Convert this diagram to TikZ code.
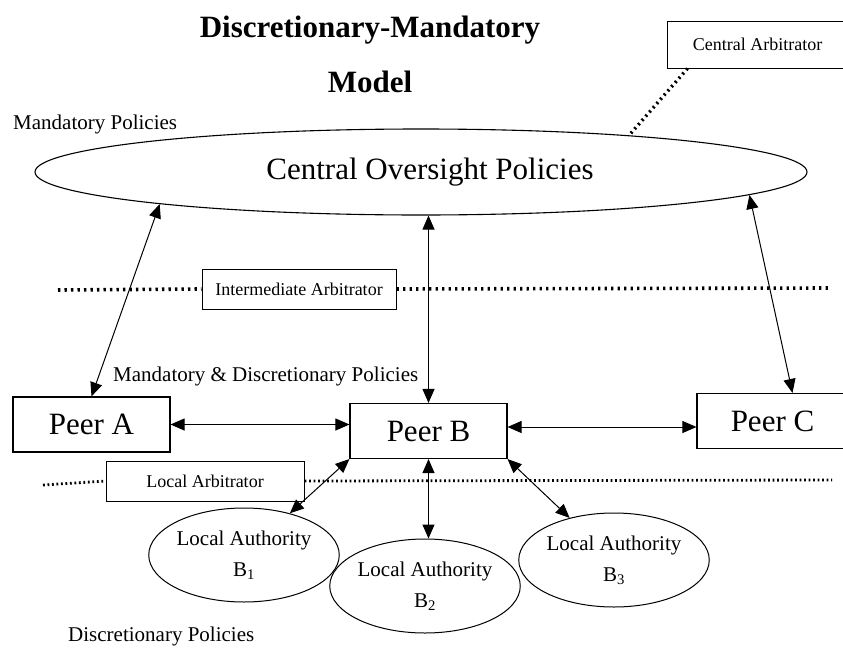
\documentclass[tikz,border=0pt]{standalone}
\usepackage{fontspec}
\setmainfont{Liberation Serif}
\usetikzlibrary{arrows.meta}
\usetikzlibrary{positioning}
\usetikzlibrary{shapes.geometric}
\usetikzlibrary{calc}

\begin{document}
\begin{tikzpicture}[x=1pt,y=-1pt,
  peer/.style={draw,line width=1.1pt,minimum width=157pt,minimum height=55pt,inner sep=0pt,font=\fontsize{31}{36}\selectfont},
  arbbox/.style={draw,line width=1pt,fill=white,minimum height=40pt,inner sep=0pt,font=\fontsize{18}{22}\selectfont},
  authority/.style={draw,ellipse,line width=1pt,minimum width=182pt,minimum height=94pt,inner sep=0pt,align=center,font=\fontsize{21}{31}\selectfont},
  policy/.style={anchor=west,inner sep=0pt,font=\fontsize{21}{25}\selectfont},
  biarrow/.style={{Triangle[length=14pt,width=12pt]}-{Triangle[length=14pt,width=12pt]},line width=1pt},
  bigdots/.style={line width=3.6pt,dash pattern=on 2.4pt off 4.1pt},
  smalldots/.style={line width=2.8pt,dash pattern=on 1.8pt off 2.7pt}]
  \useasboundingbox (0,0) rectangle (843,648);
  % title
  \node[font=\fontsize{31}{36}\selectfont\bfseries] (title) at (370,30) {Discretionary-Mandatory};
  \node[font=\fontsize{31}{36}\selectfont\bfseries] (model) at (370,82) {Model};
  % mandatory level
  \node[policy] (mandpol) at (13,124) {Mandatory Policies};
  \node[draw,ellipse,line width=1.1pt,minimum width=772pt,minimum height=86pt,inner sep=0pt,font=\fontsize{31}{36}\selectfont] (cop) at (421,172) {\hspace*{18pt}Central Oversight Policies};
  \node[arbbox,minimum width=181pt,minimum height=47pt] (carb) at (757.5,44.5) {Central Arbitrator};
  \draw[line width=3.4pt,dash pattern=on 2pt off 3.6pt] ([xshift=21pt]carb.south west) -- (cop.10);
  % intermediate level
  \node[arbbox,minimum width=194pt] (iarb) at (299,289) {Intermediate Arbitrator};
  \coordinate (iL) at (58,290);
  \coordinate (iR) at (828,288);
  \draw[bigdots] (iL) -- (iarb.west);
  \draw[bigdots] (iarb.east) -- (iR);
  \node[policy] (mdpol) at (113,376) {Mandatory \& Discretionary Policies};
  % peers
  \node[peer] (peerA) at (91.5,424.5) {Peer A};
  \node[peer] (peerB) at (428.5,431) {Peer B};
  \node[peer,minimum width=151pt] (peerC) at (772.5,421) {Peer C};
  \draw[biarrow] (peerA.north) -- (cop.187);
  \draw[biarrow] (peerB.north) -- (peerB.north |- cop.south);
  \draw[biarrow] ([xshift=20pt]peerC.north) -- (cop.-4.3);
  \draw[biarrow] (peerA.east) -- (peerA.east -| peerB.west);
  \draw[biarrow] ([yshift=4pt]peerB.east) -- ([yshift=4pt]peerB.east -| peerC.west);
  % local level
  \node[arbbox,minimum width=198pt] (larb) at (205,481) {Local Arbitrator};
  \coordinate (lL) at (43,485);
  \coordinate (lR) at (832,480);
  \draw[smalldots] (lL) -- (larb.west);
  \draw[smalldots] (larb.east) -- (lR);
  \node[authority] (laB1) at (244,555) {Local Authority\\B\textsubscript{1}};
  \node[authority] (laB2) at (425,586) {Local Authority\\B\textsubscript{2}};
  \node[authority] (laB3) at (614,560) {Local Authority\\B\textsubscript{3}};
  \draw[biarrow] (peerB.south west) -- (laB1);
  \draw[biarrow] (peerB.south) -- (peerB.south |- laB2.north);
  \draw[biarrow] (peerB.south east) -- (laB3);
  \node[policy] (discpol) at (68,636) {Discretionary Policies};
\end{tikzpicture}
\end{document}
